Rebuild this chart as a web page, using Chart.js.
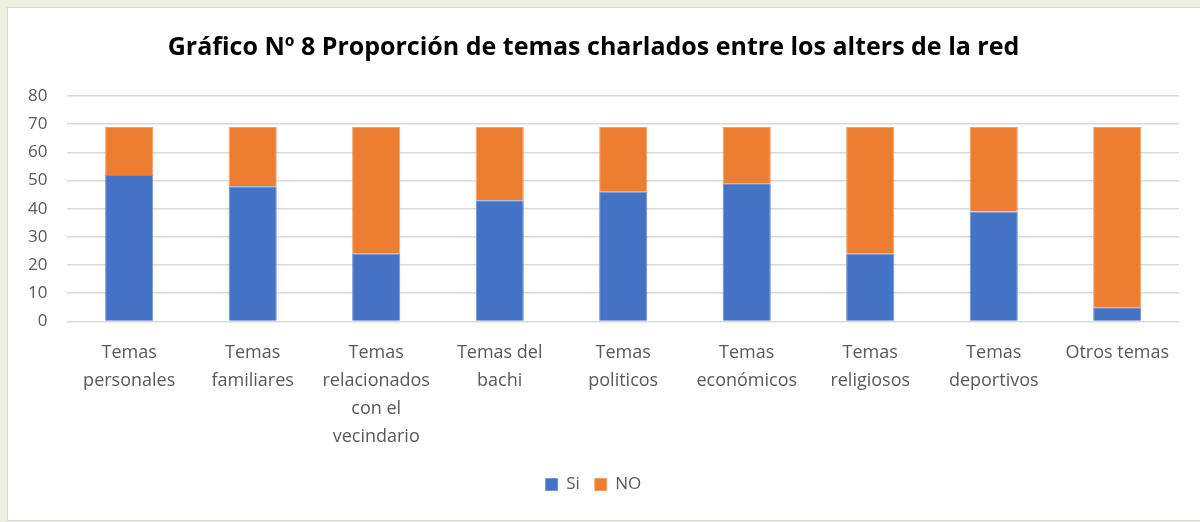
<!DOCTYPE html>
<html>
<head>
<meta charset="utf-8">
<script src="https://cdn.jsdelivr.net/npm/chart.js@4/dist/chart.umd.min.js"></script>
<style>
  body { margin: 0; background: #ebf1de; }
  #wrap { position: absolute; left: 7px; top: 7px; width: 1193px; height: 512px;
          background: #fff; border: 1px solid #d9d9d9; border-right: none; }
</style>
</head>
<body>
<div id="wrap"><canvas id="myChart" width="1193" height="512"></canvas></div>
<script>
// categories (multi-line labels as in the original)
var categories = [
    ["Temas", "personales"],
    ["Temas", "familiares"],
    ["Temas", "relacionados", "con el", "vecindario"],
    ["Temas del", "bachi"],
    ["Temas", "politicos"],
    ["Temas", "económicos"],
    ["Temas", "religiosos"],
    ["Temas", "deportivos"],
    ["Otros temas"]
];
// answers per topic
var si = [52, 48, 24, 43, 46, 49, 24, 39, 5];
var no = [17, 21, 45, 26, 23, 20, 45, 30, 64];
var yTicks = [0, 10, 20, 30, 40, 50, 60, 70, 80];

var ctx = document.getElementById("myChart").getContext('2d');
var myChart = new Chart(ctx, {
    type: 'bar',
    data: {
        labels: categories,
        datasets: [{
            label: "Si",
            data: si,
            backgroundColor: "#4472c4",
            borderColor: "#6f93d6",
            borderWidth: 1,
            categoryPercentage: 1,
            barPercentage: 0.39
        }, {
            label: "NO",
            data: no,
            backgroundColor: "#ed7d31",
            borderColor: "#f3a06a",
            borderWidth: 1,
            categoryPercentage: 1,
            barPercentage: 0.39
        }]
    },
    options: {
        responsive: false,
        animation: false,
        layout: { padding: { left: 0, right: 22, top: 10, bottom: 17 } },
        plugins: {
            title: {
                display: true,
                text: 'Gráfico Nº 8 Proporción de temas charlados entre los alters de la red',
                color: '#000',
                font: { family: 'Open Sans', size: 25, weight: 'bold' },
                padding: { top: 15, bottom: 33 }
            },
            legend: {
                position: 'bottom',
                labels: {
                    color: '#595959',
                    font: { family: 'Open Sans', size: 17 },
                    boxWidth: 12,
                    boxHeight: 12,
                    padding: 15
                }
            },
            tooltip: { enabled: false }
        },
        scales: {
            x: {
                stacked: true,
                grid: { display: false },
                border: { display: false },
                ticks: {
                    color: '#595959',
                    font: { family: 'Open Sans', size: 18, lineHeight: 1.55 },
                    maxRotation: 0,
                    autoSkip: false,
                    padding: 10
                }
            },
            y: {
                stacked: true,
                min: 0,
                max: 80,
                afterBuildTicks: function (axis) {
                    axis.ticks = yTicks.map(function (v) { return { value: v }; });
                },
                grid: { color: '#d9d9d9', lineWidth: 1.5, drawTicks: false },
                border: { display: false },
                ticks: {
                    color: '#595959',
                    font: { family: 'Open Sans', size: 17 },
                    padding: 20
                }
            }
        }
    }
});
</script>
</body>
</html>
